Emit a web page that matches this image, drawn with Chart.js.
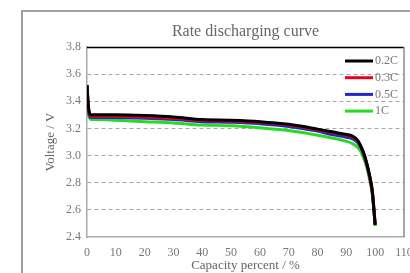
<!DOCTYPE html>
<html>
<head>
<meta charset="utf-8">
<script src="https://cdn.jsdelivr.net/npm/chart.js@4"></script>
<style>
  html, body { margin: 0; padding: 0; background: #fff; }
  .wrap { position: relative; width: 410px; height: 273px; overflow: hidden; }
  .frame { position: absolute; left: 21px; top: 10px; width: 420px; height: 300px; border: 2px solid #a0a0a0; box-sizing: border-box; }
  canvas { position: absolute; left: 0; top: 0; }
</style>
</head>
<body>
<div class="wrap">
  <div class="frame"></div>
  <canvas id="rateChart" width="410" height="273"></canvas>
</div>
<script>
const capacity = [0, 0.5, 1.5, 5, 10, 20, 30, 40, 50, 60, 70, 80, 85, 90, 92, 94, 95, 96, 97, 98, 99, 100];
const v02C = [3.52, 3.36, 3.30, 3.30, 3.30, 3.295, 3.285, 3.265, 3.26, 3.25, 3.23, 3.195, 3.175, 3.155, 3.145, 3.11, 3.07, 3.02, 2.95, 2.86, 2.74, 2.49];
const v03C = [3.52, 3.35, 3.29, 3.29, 3.29, 3.285, 3.275, 3.26, 3.255, 3.245, 3.225, 3.19, 3.17, 3.15, 3.14, 3.105, 3.065, 3.015, 2.945, 2.855, 2.735, 2.49];
const v05C = [3.52, 3.33, 3.28, 3.28, 3.28, 3.275, 3.265, 3.25, 3.245, 3.235, 3.215, 3.18, 3.155, 3.135, 3.125, 3.095, 3.06, 3.01, 2.94, 2.85, 2.73, 2.49];
const v1C = [3.52, 3.30, 3.265, 3.265, 3.26, 3.25, 3.24, 3.225, 3.22, 3.205, 3.185, 3.15, 3.13, 3.105, 3.09, 3.06, 3.03, 2.98, 2.92, 2.83, 2.71, 2.48];
const rateLabels = ['0.2C', '0.3C', '0.5C', '1C'];
const rateColors = ['#000000', '#e8001c', '#2424c8', '#22dd22'];
const xTicks = [0, 10, 20, 30, 40, 50, 60, 70, 80, 90, 100, 110];
const yTicks = [2.4, 2.6, 2.8, 3.0, 3.2, 3.4, 3.6, 3.8];
const chartTitle = 'Rate discharging curve';

const serif = '"Liberation Serif", "DejaVu Serif", serif';

function toPoints(vals) {
    return capacity.map((c, i) => ({ x: c, y: vals[i] }));
    }

// title over the plot area, top/right frame lines and the inside legend
const frameLines = {
    id: 'frameLines',
    afterDraw(chart) {
        const { ctx, chartArea: a } = chart;
        ctx.save();
        ctx.font = '16px ' + serif;
        ctx.fillStyle = '#666';
        ctx.textAlign = 'center';
        ctx.textBaseline = 'middle';
        ctx.fillText(chartTitle, (a.left + a.right) / 2, 32);
        ctx.strokeStyle = '#000';
        ctx.lineWidth = 1.5;
        ctx.beginPath();
        ctx.moveTo(a.left, a.top + 0.5);
        ctx.lineTo(a.right, a.top + 0.5);
        ctx.stroke();
        ctx.strokeStyle = '#8a8a8a';
        ctx.beginPath();
        ctx.moveTo(a.right, a.top);
        ctx.lineTo(a.right, a.bottom);
        ctx.stroke();
        ctx.font = '12px ' + serif;
        ctx.textAlign = 'left';
        ctx.fillStyle = '#777';
        chart.data.datasets.forEach((ds, i) => {
            const y = 61 + i * 16.7;
            ctx.strokeStyle = ds.borderColor;
            ctx.lineWidth = 3;
            ctx.beginPath();
            ctx.moveTo(345, y);
            ctx.lineTo(373, y);
            ctx.stroke();
            ctx.fillText(ds.label, 375, y);
            });
        ctx.restore();
        }
    };

new Chart(document.getElementById('rateChart'), {
    type: 'line',
    data: {
        datasets: [
            { label: rateLabels[0], data: toPoints(v02C), borderColor: rateColors[0] },
            { label: rateLabels[1], data: toPoints(v03C), borderColor: rateColors[1] },
            { label: rateLabels[2], data: toPoints(v05C), borderColor: rateColors[2] },
            { label: rateLabels[3], data: toPoints(v1C), borderColor: rateColors[3] }
        ]},
    options: {
        responsive: false,
        animation: false,
        layout: { padding: { top: 47, right: 6, bottom: 0, left: 0 } },
        elements: {
            line: { borderWidth: 3, cubicInterpolationMode: 'monotone', fill: false },
            point: { radius: 0 }
            },
        plugins: {
            legend: { display: false },
            tooltip: { enabled: false },
            title: { display: false }
            },
        scales: {
            x: {
                type: 'linear',
                min: 0,
                max: 110,
                afterBuildTicks(scale) { scale.ticks = xTicks.map(v => ({ value: v })); },
                afterFit(scale) { scale.height = 36; scale.paddingRight = 0; scale.paddingLeft = 0; scale.paddingTop = 0; },
                grid: { display: false, drawTicks: false },
                border: { display: true, color: '#aaa', width: 1.5 },
                ticks: { color: '#777', padding: 9, font: { family: serif, size: 12 } },
                title: {
                    display: true,
                    text: 'Capacity percent / %',
                    color: '#666',
                    font: { family: serif, size: 13 },
                    padding: { top: 0, bottom: 0 }
                    }
                },
            y: {
                min: 2.4,
                max: 3.8,
                afterBuildTicks(scale) { scale.ticks = yTicks.map(v => ({ value: v })); },
                afterFit(scale) { scale.width = 87; scale.paddingTop = 0; scale.paddingBottom = 0; },
                grid: {
                    drawTicks: false,
                    color: c => (c.tick && (c.tick.value === 2.4 || c.tick.value === 3.8)) ? 'rgba(0,0,0,0)' : '#a8a8a8',
                    lineWidth: 1
                    },
                border: { display: true, color: '#aaa', width: 1.5, dash: [4, 3] },
                ticks: {
                    color: '#777',
                    padding: 6,
                    font: { family: serif, size: 12 },
                    callback: v => v.toFixed(1)
                    },
                title: {
                    display: true,
                    text: 'Voltage / V',
                    color: '#666',
                    font: { family: serif, size: 13 },
                    padding: { top: 43, bottom: 0 }
                    }
                }
            }
        },
    plugins: [frameLines]
    });
</script>
</body>
</html>
